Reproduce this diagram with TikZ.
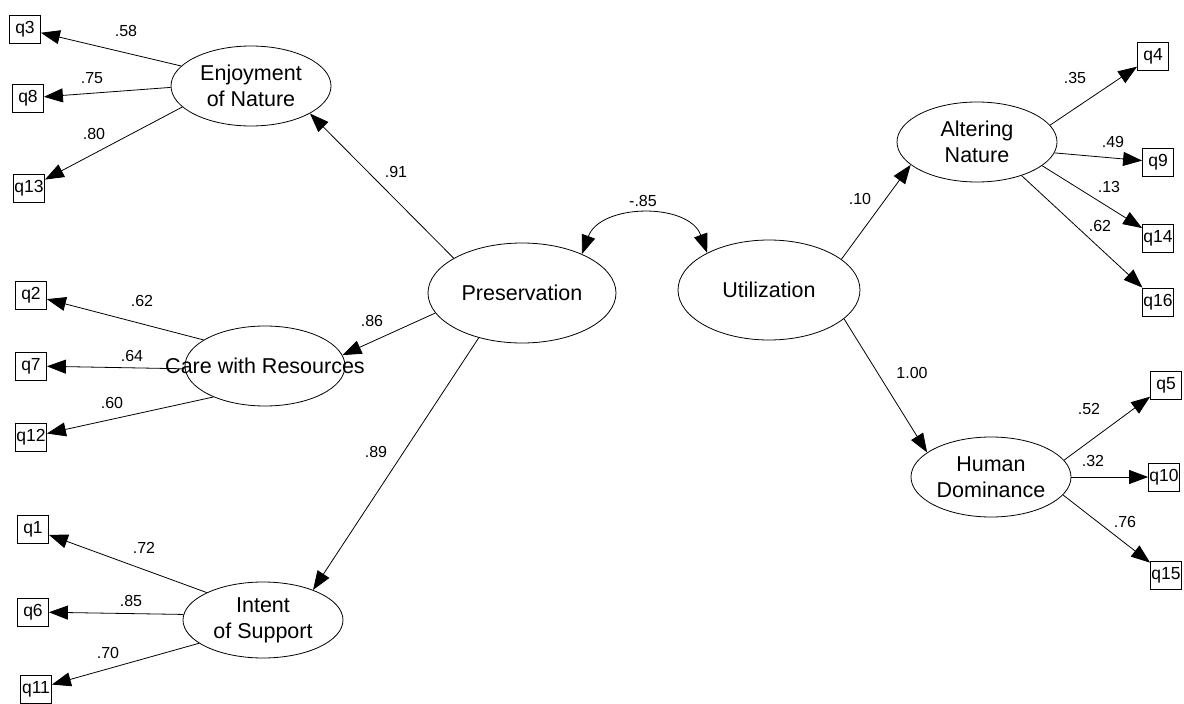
\documentclass[tikz,border=0pt]{standalone}
\usepackage{fontspec}
\setmainfont{Liberation Sans}
\usetikzlibrary{shapes.geometric,arrows.meta}
\tikzset{
  latent/.style={draw, ellipse, line width=0.8pt, inner sep=0pt, minimum width=160pt, minimum height=80pt, align=center, font=\fontsize{21.5}{26}\selectfont},
  item/.style={draw, rectangle, line width=0.8pt, inner sep=0pt, minimum width=31pt, minimum height=28pt, font=\fontsize{17.5}{20}\selectfont},
  coef/.style={inner sep=0pt, font=\fontsize{16}{18}\selectfont},
  arr/.style={line width=0.8pt, -{Triangle[length=19pt,width=14pt]}},
  covar/.style={line width=0.8pt, {Triangle[length=19pt,width=14pt]}-{Triangle[length=19pt,width=14pt]}}
}
\begin{document}
\begin{tikzpicture}
\useasboundingbox (0pt,0pt) rectangle (1184pt,-704pt);
% latent factors
\node[latent, minimum width=188pt, minimum height=100pt] (pres) at (522pt,-293pt) {Preservation};
\node[latent, minimum width=182pt, minimum height=100pt] (util) at (769pt,-290pt) {Utilization};
\node[latent] (enj) at (251pt,-86pt) {Enjoyment\\of Nature};
\node[latent] (care) at (265pt,-366pt) {\makebox[0pt]{Care with Resources}};
\node[latent, minimum height=76pt] (intent) at (263pt,-620pt) {Intent\\of Support};
\node[latent] (alter) at (977pt,-142pt) {Altering\\Nature};
\node[latent] (human) at (991pt,-477pt) {Human\\Dominance};
% items
\node[item] (q3) at (25pt,-29pt) {q3};
\node[item] (q8) at (28pt,-98pt) {q8};
\node[item] (q13) at (29pt,-188pt) {q13};
\node[item] (q2) at (31pt,-295pt) {q2};
\node[item] (q7) at (31pt,-366pt) {q7};
\node[item] (q12) at (31pt,-437pt) {q12};
\node[item] (q1) at (33pt,-529pt) {q1};
\node[item] (q6) at (33pt,-612pt) {q6};
\node[item] (q11) at (36pt,-689pt) {q11};
\node[item] (q4) at (1153pt,-56pt) {q4};
\node[item] (q9) at (1158pt,-162pt) {q9};
\node[item] (q14) at (1158pt,-238pt) {q14};
\node[item] (q16) at (1158pt,-302pt) {q16};
\node[item] (q5) at (1166pt,-385pt) {q5};
\node[item] (q10) at (1164pt,-477pt) {q10};
\node[item] (q15) at (1166pt,-575pt) {q15};
% structural paths
\draw[covar] (pres.33) to[out=70, in=110, looseness=1.1] (util.149);
\draw[arr] (pres.153) -- (enj.-25);
\draw[arr] (pres.193) -- (care.8);
\draw[arr] (pres.226) -- (intent.31);
\draw[arr] (util.23) -- (alter.199);
\draw[arr] (util.-21) -- (human.159);
% loadings
\draw[arr] (enj.164) -- (q3);
\draw[arr] (enj.181) -- (q8);
\draw[arr] (enj.197) -- (q13);
\draw[arr] (care.157) -- (q2);
\draw[arr] (care.182) -- (q7);
\draw[arr] (care.211) -- (q12);
\draw[arr] (intent.154) -- (q1);
\draw[arr] (intent.176) -- (q6);
\draw[arr] (intent.200) -- (q11);
\draw[arr] (alter.13) -- (q4);
\draw[arr] (alter.-8) -- (q9);
\draw[arr] (alter.-20) -- (q14);
\draw[arr] (alter.-37) -- (q16);
\draw[arr] (human.13) -- (q5);
\draw[arr] (human.0) -- (q10);
\draw[arr] (human.-14) -- (q15);
% estimates
\node[coef] (cpu) at (643pt,-201pt) {-.85};
\node[coef] (cpe) at (396pt,-172pt) {.91};
\node[coef] (cpc) at (372pt,-321pt) {.86};
\node[coef] (cpi) at (376pt,-452pt) {.89};
\node[coef] (cua) at (860pt,-199pt) {.10};
\node[coef] (cuh) at (912pt,-373pt) {1.00};
\node[coef] (c3) at (126pt,-31pt) {.58};
\node[coef] (c8) at (92pt,-78pt) {.75};
\node[coef] (c13) at (94pt,-134pt) {.80};
\node[coef] (c2) at (142pt,-301pt) {.62};
\node[coef] (c7) at (132pt,-356pt) {.64};
\node[coef] (c12) at (112pt,-403pt) {.60};
\node[coef] (c1) at (144pt,-548pt) {.72};
\node[coef] (c6) at (131pt,-601pt) {.85};
\node[coef] (c11) at (108pt,-653pt) {.70};
\node[coef] (c4) at (1075pt,-78pt) {.35};
\node[coef] (c9) at (1113pt,-142pt) {.49};
\node[coef] (c14) at (1109pt,-187pt) {.13};
\node[coef] (c16) at (1100pt,-226pt) {.62};
\node[coef] (c5) at (1089pt,-409pt) {.52};
\node[coef] (c10) at (1093pt,-461pt) {.32};
\node[coef] (c15) at (1125pt,-522pt) {.76};
\end{tikzpicture}
\end{document}
